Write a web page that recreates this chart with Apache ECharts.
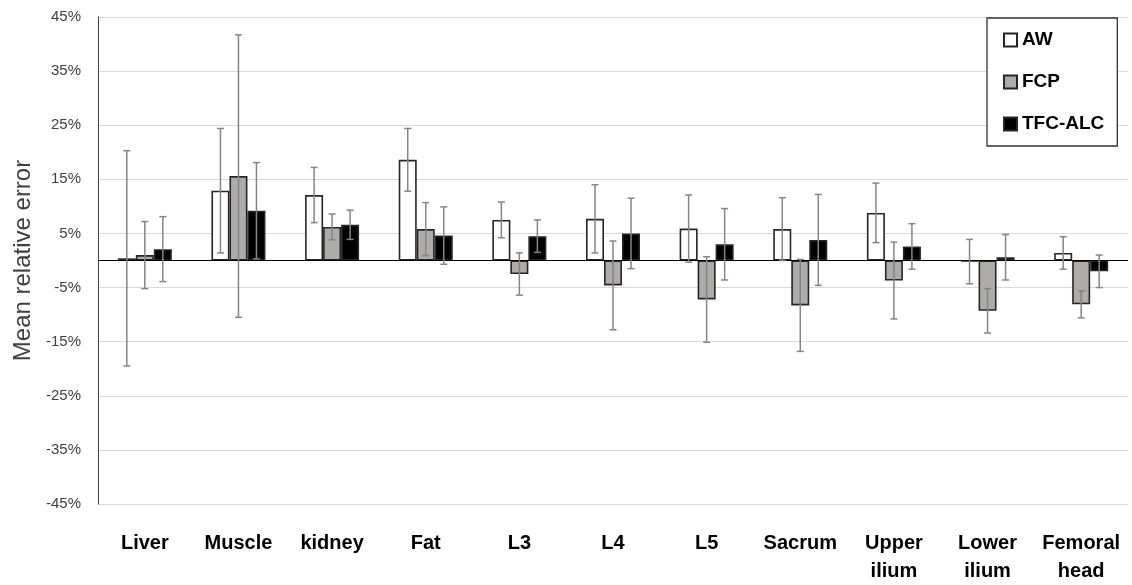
<!DOCTYPE html>
<html>
<head>
<meta charset="utf-8">
<script src="https://cdn.jsdelivr.net/npm/echarts@6/dist/echarts.min.js"></script>
<style>
  html, body { margin: 0; padding: 0; background: #fff; }
  #chart { width: 1132px; height: 585px; }
</style>
</head>
<body>
<div id="chart"></div>
<script>
// Regions measured
const categories = ['Liver', 'Muscle', 'kidney', 'Fat', 'L3', 'L4', 'L5', 'Sacrum', 'Upper ilium', 'Lower ilium', 'Femoral head'];

// Mean relative error (%) and its error-bar half-width (%) for each method
const awMean  = [0.4, 12.9, 12.1, 18.6, 7.5, 7.7, 5.9, 5.8, 8.8, -0.2, 1.4];
const awErr   = [19.9, 11.5, 5.1, 5.8, 3.3, 6.3, 6.2, 5.8, 5.5, 4.1, 3.0];
const fcpMean = [1.0, 15.6, 6.2, 5.8, -2.5, -4.6, -7.2, -8.3, -3.7, -9.3, -8.1];
const fcpErr  = [6.2, 26.1, 2.4, 4.9, 3.9, 8.2, 7.9, 8.5, 7.1, 4.1, 2.5];
const tfcMean = [2.1, 9.2, 6.6, 4.6, 4.5, 5.0, 3.0, 3.8, 2.6, 0.6, -2.0];
const tfcErr  = [6.0, 8.9, 2.7, 5.3, 3.0, 6.5, 6.6, 8.4, 4.2, 4.2, 3.0];

const seriesNames = ['AW', 'FCP', 'TFC-ALC'];
const fills = ['#ffffff', '#aeabab', '#000000'];

const BAR_W = 18;
const chart = echarts.init(document.getElementById('chart'));

function barSeries(name, values, fill) {
  return {
    name: name,
    type: 'bar',
    data: values,
    barWidth: BAR_W,
    barGap: '0%',
    itemStyle: { color: fill, borderColor: '#262626', borderWidth: 1.6 },
    emphasis: { disabled: true },
    z: 2
  };
}

// Error bars drawn as custom vertical whiskers, offset to sit on each bar
function errorSeries(idx, means, errs) {
  return {
    type: 'custom',
    name: seriesNames[idx] + ' error',
    data: means.map((m, i) => [i, m, errs[i]]),
    z: 5,
    silent: true,
    renderItem: function (params, api) {
      const x = api.value(0), m = api.value(1), e = api.value(2);
      const offset = (idx - 1) * BAR_W;
      const hi = api.coord([x, m + e]);
      const lo = api.coord([x, m - e]);
      const px = hi[0] + offset;
      const cap = 3.5;
      const style = { stroke: '#858585', lineWidth: 1.5 };
      return {
        type: 'group',
        children: [
          { type: 'line', shape: { x1: px, y1: hi[1], x2: px, y2: lo[1] }, style: style },
          { type: 'line', shape: { x1: px - cap, y1: hi[1], x2: px + cap, y2: hi[1] }, style: style },
          { type: 'line', shape: { x1: px - cap, y1: lo[1], x2: px + cap, y2: lo[1] }, style: style }
        ]
      };
    }
  };
}

const option = {
  animation: false,
  backgroundColor: '#ffffff',
  grid: { left: 98, right: 4, top: 17, bottom: 79 },
  legend: {
    data: seriesNames,
    orient: 'vertical',
    left: 987,
    top: 18,
    icon: 'rect',
    itemWidth: 13,
    itemHeight: 13,
    itemGap: 22,
    padding: [12, 13, 12, 16],
    backgroundColor: '#ffffff',
    borderColor: '#333333',
    borderWidth: 1.3,
    borderRadius: 0,
    textStyle: { fontFamily: 'Liberation Sans', fontWeight: 'bold', fontSize: 19, color: '#000', lineHeight: 20 }
  },
  xAxis: {
    type: 'category',
    data: categories,
    axisLine: { show: false },
    axisTick: { show: false },
    axisLabel: {
      margin: 25,
      interval: 0,
      fontFamily: 'Liberation Sans',
      fontWeight: 'bold',
      fontSize: 20,
      lineHeight: 28,
      color: '#000',
      formatter: v => v.replace(' ', '\n')
    }
  },
  yAxis: {
    type: 'value',
    min: -45,
    max: 45,
    interval: 5,
    name: 'Mean relative error',
    nameLocation: 'middle',
    nameGap: 63,
    nameTextStyle: { fontFamily: 'Liberation Sans', fontSize: 24, color: '#404040' },
    axisLine: { show: true, lineStyle: { color: '#404040', width: 1 } },
    axisTick: { show: false },
    axisLabel: {
      margin: 17,
      fontFamily: 'Liberation Sans',
      fontSize: 15,
      color: '#404040',
      formatter: v => (Math.round(v) % 10 === 0 ? '' : v + '%')
    },
    splitLine: { show: true, lineStyle: { color: ['#d9d9d9', 'rgba(0,0,0,0)'], width: 1.2 } }
  },
  series: [
    barSeries('AW', awMean, fills[0]),
    barSeries('FCP', fcpMean, fills[1]),
    barSeries('TFC-ALC', tfcMean, fills[2]),
    errorSeries(0, awMean, awErr),
    errorSeries(1, fcpMean, fcpErr),
    Object.assign(errorSeries(2, tfcMean, tfcErr), {
      markLine: {
        silent: true,
        symbol: 'none',
        label: { show: false },
        lineStyle: { color: '#000', width: 1.2, type: 'solid' },
        data: [{ yAxis: 0 }]
      }
    })
  ]
};

chart.setOption(option);
</script>
</body>
</html>
